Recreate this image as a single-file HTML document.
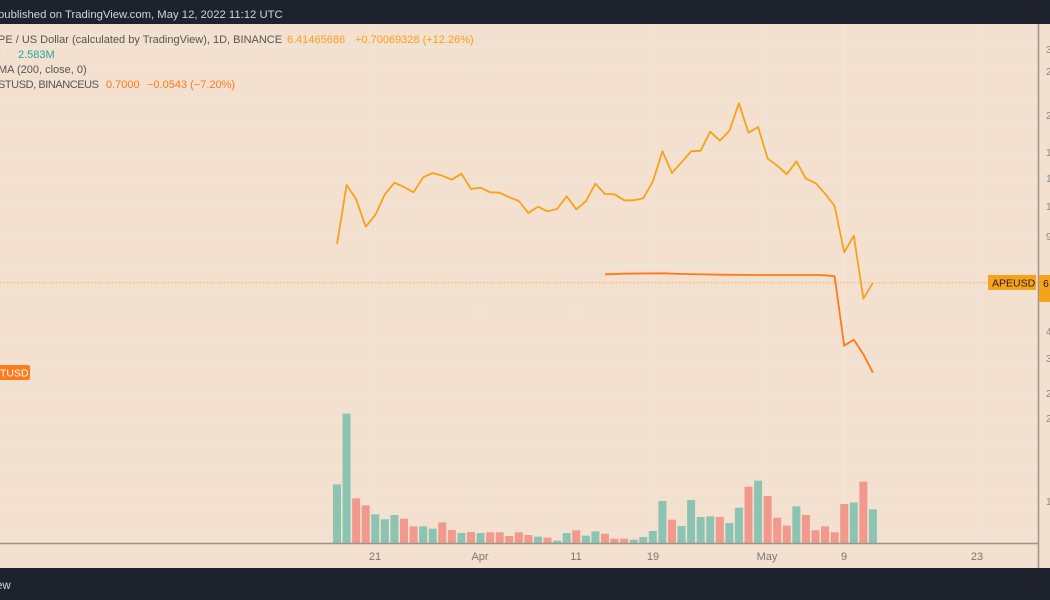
<!DOCTYPE html>
<html><head><meta charset="utf-8"><style>
body{margin:0;width:1050px;height:600px;overflow:hidden;background:#f3e0cf;font-family:"Liberation Sans",sans-serif}
svg{position:absolute;left:0;top:0}
</style></head><body>
<svg id="s" width="1050" height="600" xmlns="http://www.w3.org/2000/svg">
<rect x="0" y="0" width="1050" height="600" fill="#f3e0cf"/>
<g id="grid" stroke="#efe6dc" stroke-width="1.3"></g>
<g id="bars"></g>
<line x1="0" y1="282.7" x2="1038" y2="282.7" stroke="#f7a21b" stroke-width="1" stroke-dasharray="1.5,2" opacity="0.8"/>
<polyline id="p1" fill="none" stroke="#f7a21b" stroke-width="1.8" stroke-linejoin="round"/>
<polyline id="p2" fill="none" stroke="#ff7a1a" stroke-width="1.8" stroke-linejoin="round"/>
<line x1="0" y1="543.5" x2="1038" y2="543.5" stroke="#9b948d" stroke-width="1.5"/>
<line x1="1038.5" y1="24" x2="1038.5" y2="568" stroke="#9b948d" stroke-width="1.5"/>
<rect x="0" y="0" width="1050" height="24" fill="#1e222d"/>
<rect x="0" y="568" width="1050" height="32" fill="#1e222d"/>
<text x="-2" y="18" fill="#d1d4dc" font-size="11.3">published on TradingView.com, May 12, 2022 11:12 UTC</text>
<text x="-4" y="589" fill="#d1d4dc" font-size="11.5">ew</text>
<g font-size="11" fill="#555">
<text x="-2" y="43">PE / US Dollar (calculated by TradingView), 1D, BINANCE</text>
<text x="287" y="43" fill="#f7a21b">6.41465686</text>
<text x="355" y="43" fill="#f7a21b">+0.70069328 (+12.26%)</text>
<text x="-2" y="58">I</text><text x="18" y="58" fill="#26a69a">2.583M</text>
<text x="-2" y="73">MA (200, close, 0)</text>
<text x="-2" y="88" textLength="101">STUSD, BINANCEUS</text>
<text x="106" y="88" fill="#ff7a1a">0.7000</text>
<text x="147" y="88" fill="#ff7a1a">−0.0543 (−7.20%)</text>
</g>
<g font-size="11" fill="#777" text-anchor="middle">
<text x="375" y="560">21</text><text x="480" y="560">Apr</text><text x="576" y="560">11</text>
<text x="653" y="560">19</text><text x="767" y="560">May</text><text x="844" y="560">9</text><text x="977" y="560">23</text>
</g>
<g font-size="10" fill="#888">
<text x="1046" y="53">3</text><text x="1046" y="75">2</text><text x="1046" y="119">2</text><text x="1046" y="156">1</text><text x="1046" y="182">1</text><text x="1046" y="210">1</text><text x="1046" y="240">9</text><text x="1046" y="335">4</text><text x="1046" y="362">3</text><text x="1046" y="397">2</text><text x="1046" y="422">2</text><text x="1046" y="505">1</text>
</g>
<rect x="988" y="275" width="48" height="15" fill="#f7a21b"/>
<text x="992" y="286.5" font-size="10.5" fill="#222">APEUSD</text>
<rect x="1039" y="275" width="11" height="27" fill="#f7a21b"/>
<text x="1043" y="287" font-size="10.5" fill="#222">6</text>
<rect x="-4" y="365" width="34" height="15" rx="2" fill="#ff7a1a"/>
<text x="0" y="376.5" font-size="10.5" fill="#fff">TUSD</text>
</svg>
<script>
var ns="http://www.w3.org/2000/svg",g=document.getElementById('grid');
[47,70,100,123,153,182,205,233,265,290,312,340,363,393,418,443,465,490,506,533].forEach(function(y){var l=document.createElementNS(ns,'line');l.setAttribute('x1',0);l.setAttribute('x2',1038);l.setAttribute('y1',y);l.setAttribute('y2',y);g.appendChild(l);});
[375,480,576,653,767,844,977].forEach(function(x){var l=document.createElementNS(ns,'line');l.setAttribute('x1',x);l.setAttribute('x2',x);l.setAttribute('y1',24);l.setAttribute('y2',543);g.appendChild(l);});
var v="253g 41g 295r 316r 343g 358g 345g 356r 379r 379g 386g 367r 390r 399g 396r 399g 397r 397r 408r 397r 405r 410g 413r 422g 399g 391r 407g 394g 401r 416r 416r 419g 411g 393g 303g 359r 378g 300g 351g 349g 351r 369g 323g 260r 242g 288r 353r 377r 319g 345r 391r 379r 397r 312r 308g 245r 328g".split(' ');
var b=document.getElementById('bars');
v.forEach(function(s,i){var t=400+parseInt(s)/3,r=document.createElementNS(ns,'rect');r.setAttribute('x',333+9.57*i);r.setAttribute('width',8);r.setAttribute('y',t);r.setAttribute('height',543-t);r.setAttribute('fill',s.slice(-1)=='g'?'#8cc4b4':'#f0998c');b.appendChild(r);});
var p=[462,285,328,410,375,313,278,291,307,262,249,257,269,251,297,293,307,308,322,333,369,350,364,357,319,358,334,281,312,313,331,331,325,275,184,249,217,184,182,125,152,122,40,128,111,206,227,253,214,266,279,311,348,487,437,626,578];
function X(i){return (337+9.57*i).toFixed(1)}
document.getElementById('p1').setAttribute('points',p.map(function(y,i){return X(i)+','+(90+y/3).toFixed(1)}).join(' '));
var q={28:553,30:551,34:550,36:552,40:554,44:555,50:555,51:556,52:559,53:767,54:749,55:793,56:848},pts=[];
for(var k in q)pts.push(X(+k)+','+(90+q[k]/3).toFixed(1));
document.getElementById('p2').setAttribute('points',pts.join(' '));
</script>
</body></html>
